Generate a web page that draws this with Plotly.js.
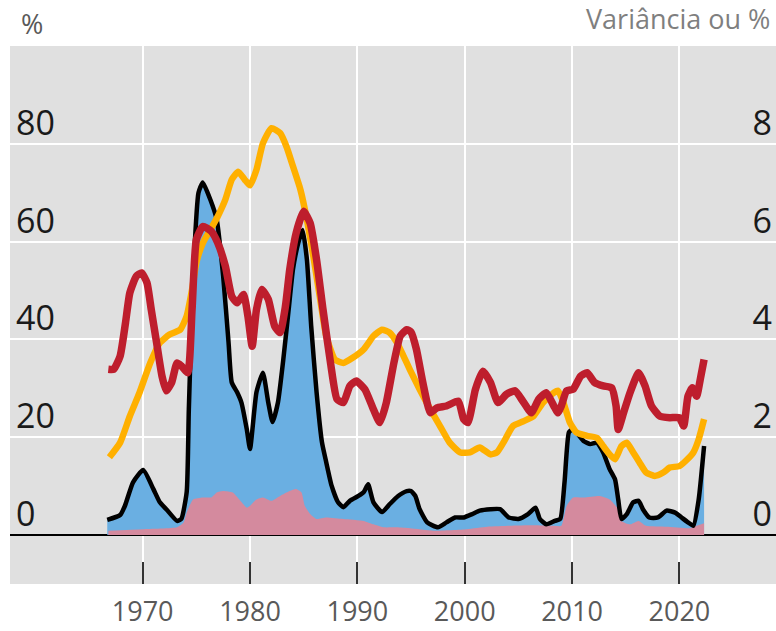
<!DOCTYPE html>
<html>
<head>
<meta charset="utf-8">
<script src="https://cdn.plot.ly/plotly-3.0.1.min.js"></script>
<style>html,body{margin:0;padding:0;background:#fff;}#chart{width:776px;height:631px;}</style>
</head>
<body>
<div id="chart"></div>
<script>
// Blue area (top outlined in black)
const blueYears = [1966.7,1967.9,1968.35,1969.1,1970.05,1971.0,1971.6,1972.2,1973.2,1973.6,1974.1,1974.3,1974.7,1975.2,1975.6,1976.3,1976.9,1977.5,1978.0,1978.3,1978.8,1979.2,1979.7,1980.0,1980.6,1981.2,1981.7,1982.1,1982.6,1983.1,1983.6,1984.0,1984.5,1984.9,1985.3,1985.7,1986.2,1986.7,1987.1,1987.6,1988.2,1988.7,1989.3,1990.1,1990.6,1991.0,1991.5,1992.3,1993.0,1993.8,1994.6,1995.0,1995.4,1995.8,1996.5,1997.5,1998.3,1999.1,1999.9,2000.7,2001.4,2002.4,2003.3,2004.1,2005.0,2005.9,2006.6,2007.0,2007.6,2008.4,2008.9,2009.3,2009.7,2010.0,2010.4,2011.1,2011.7,2012.3,2012.9,2013.5,2014.0,2014.3,2014.6,2015.1,2015.7,2016.2,2016.6,2017.2,2018.0,2018.8,2019.6,2020.2,2020.8,2021.3,2021.8,2022.3];
const blueValues = [3.1,4.1,6.0,10.8,13.3,9.4,6.7,5.3,2.9,3.3,8.8,25.7,52.9,70,72.1,68.6,64.5,52.9,39.4,31.2,29.2,27.1,21.6,17.6,29.2,33.2,27.1,23.1,27.1,35.9,46.1,54.3,59.8,62.4,56.3,42.7,29.2,19,14.9,10.1,6.7,5.7,7.0,8.0,8.8,10.4,6.7,4.7,6.3,8.0,9.0,9.0,8.0,5.3,2.6,1.6,2.6,3.6,3.6,4.3,5.0,5.3,5.3,3.6,3.3,4.3,5.6,3.3,2.2,2.9,3.3,10.8,21.0,21.6,21.0,19.2,18.6,18.9,16.9,13.5,11.4,7.3,3.3,4.3,6.7,7.0,5.3,3.6,3.6,5.0,4.6,3.6,2.6,1.9,7.3,18.2];

// Pink area
const pinkYears = [1966.8,1970.0,1973.2,1973.8,1974.1,1974.7,1975.6,1976.4,1976.9,1977.5,1978.4,1979.1,1979.7,1980.0,1980.6,1981.2,1982.0,1982.8,1983.7,1984.3,1984.8,1985.1,1985.6,1986.2,1987.1,1988.7,1990.6,1991.5,1992.4,1993.7,1994.9,1997.1,2000.2,2002.1,2004.2,2006.4,2008.3,2009.0,2009.5,2010.1,2011.1,2012.6,2013.5,2014.2,2014.6,2015.4,2016.2,2016.9,2018.8,2021.0,2021.6,2022.3];
const pinkValues = [0.9,1.2,1.6,2.5,4.6,7.3,7.7,7.7,8.7,9.0,8.7,7.0,5.6,6.0,7.3,7.7,7.0,8.0,9.0,9.4,8.7,6.0,4.3,3.3,3.6,3.3,2.9,2.2,1.6,1.6,1.4,0.9,1.2,1.7,1.9,2.0,1.9,1.9,6.0,7.7,7.7,8.0,7.3,5.6,2.9,2.2,2.9,1.9,1.7,1.4,1.9,2.4];

// Yellow line
const yellowYears = [1966.9,1967.9,1968.8,1969.7,1970.7,1971.6,1972.5,1973.5,1974.1,1974.6,1975.0,1975.6,1976.3,1977.0,1977.7,1978.3,1978.9,1979.5,1980.0,1980.6,1981.2,1982.0,1982.8,1983.4,1984.0,1984.7,1985.3,1985.9,1986.5,1987.1,1987.9,1988.7,1989.6,1990.6,1991.5,1992.3,1993.0,1993.7,1994.3,1994.9,1995.8,1996.8,1997.7,1998.6,1999.6,2000.5,2001.4,2002.4,2003.0,2003.6,2004.5,2005.5,2006.4,2007.3,2008.3,2008.7,2009.2,2009.8,2010.4,2011.4,2012.3,2012.9,2013.5,2014.0,2014.6,2015.1,2015.7,2016.3,2016.9,2017.7,2018.5,2019.1,2020.0,2020.6,2021.3,2021.8,2022.3];
const yellowValues = [15.9,18.9,24.3,29.1,35.2,39.3,41.0,42.0,44.8,50.2,55.7,59.7,62.4,65.2,68.6,72.7,74.3,72.7,71.5,74.7,80.1,83.2,82.2,79.4,75.4,70.6,64.5,57.0,48.8,40.7,35.9,35.2,36.3,38.0,40.7,42.0,41.4,39.3,36.6,33.8,29.8,25.7,22.3,18.9,16.9,16.9,17.9,16.5,16.9,18.9,22.3,23.3,24.3,27.1,29.1,29.5,27.1,23.0,21.0,20.3,19.9,18.2,16.5,15.5,18.2,18.9,16.9,14.8,12.8,12.1,12.8,13.8,14.1,15.2,16.9,19.6,23.7];

// Red line
const redYears = [1966.8,1967.3,1967.9,1968.4,1968.8,1969.4,1969.9,1970.4,1970.8,1971.3,1971.8,1972.2,1972.7,1973.2,1973.6,1974.2,1974.6,1975.0,1975.6,1976.4,1977.0,1977.7,1978.3,1978.8,1979.4,1979.8,1980.2,1980.6,1981.1,1981.7,1982.3,1982.8,1983.3,1983.7,1984.3,1985.0,1985.6,1986.2,1986.8,1987.5,1988.1,1988.7,1989.3,1989.9,1990.7,1991.5,1992.1,1992.7,1993.4,1994.0,1994.6,1995.0,1995.5,1996.1,1996.8,1997.4,1998.3,1999.4,1999.9,2000.3,2001.0,2001.7,2002.4,2003.1,2003.9,2004.7,2005.5,2006.2,2006.9,2007.6,2008.3,2008.7,2009.0,2009.5,2010.1,2010.8,2011.4,2012.1,2012.9,2013.7,2014.1,2014.3,2014.8,2015.4,2016.2,2016.8,2017.4,2018.2,2019.1,2020.0,2020.4,2020.8,2021.2,2021.6,2022.0,2022.3];
const redValues = [33.9,33.9,36.6,43.4,49.5,52.9,53.6,51.6,46.1,39.3,32.5,29.5,31.2,35.2,34.6,33.2,46.1,60.4,63.1,62.1,59.7,55.0,48.8,47.5,49.2,44.8,38.6,46.1,50.2,48.2,42.7,41.4,46.8,54.3,61.8,66.2,63.8,56.3,46.1,35.2,27.8,27.1,30.5,31.5,29.8,25.7,23.0,27.1,35.2,40.7,42.0,41.5,38.0,31.2,25.0,26.0,26.4,27.4,23.7,23.0,29.8,33.5,31.2,27.1,28.8,29.5,27.1,25.0,27.8,29.1,26.4,25.0,26.4,29.5,29.8,32.5,33.2,31.2,30.5,30.1,26.4,21.6,25.0,29.1,33.2,30.5,26.4,24.3,24.0,24.0,22.3,28.4,30.1,28.4,32.5,35.9];

// Axis ticks
const xTickYears = [1970,1980,1990,2000,2010,2020];
const leftTicks = [0,20,40,60,80];
const rightTicks = [0,2,4,6,8];
const leftTitle = '%';
const rightTitle = 'Variância ou %';

const FONT = 'Open Sans, Noto Sans, sans-serif';
const sm = 0.5;

const traces = [
  {x: blueYears, y: blueValues, type: 'scatter', mode: 'lines', fill: 'tozeroy',
   fillcolor: '#6aafe2', line: {width: 0, shape: 'spline', smoothing: sm}, hoverinfo: 'skip'},
  {x: pinkYears, y: pinkValues, type: 'scatter', mode: 'lines', fill: 'tozeroy',
   fillcolor: '#d48a9e', line: {width: 0, shape: 'spline', smoothing: sm}, hoverinfo: 'skip'},
  {x: blueYears, y: blueValues, type: 'scatter', mode: 'lines',
   line: {color: '#000000', width: 4.5, shape: 'spline', smoothing: sm}},
  {x: yellowYears, y: yellowValues, type: 'scatter', mode: 'lines',
   line: {color: '#ffb000', width: 6.5, shape: 'spline', smoothing: sm}},
  {x: redYears, y: redValues, type: 'scatter', mode: 'lines',
   line: {color: '#be1e2d', width: 7.5, shape: 'spline', smoothing: sm}},
  {x: [null], y: [null], yaxis: 'y2', type: 'scatter', mode: 'lines', showlegend: false}
];

const layout = {
  width: 776, height: 631,
  margin: {l: 10, r: 0, t: 46, b: 47},
  paper_bgcolor: '#ffffff',
  plot_bgcolor: '#e0e0e0',
  showlegend: false,
  font: {family: FONT},
  xaxis: {
    range: [1957.64, 2029.0],
    tickvals: xTickYears,
    ticktext: xTickYears.map(String),
    ticks: 'inside', ticklen: 22, tickwidth: 2, tickcolor: '#333333',
    showgrid: true, gridcolor: '#ffffff', gridwidth: 2,
    zeroline: false, showline: false,
    tickfont: {size: 27, color: '#595959', family: FONT},
    ticklabelstandoff: 9
  },
  yaxis: {
    range: [-10, 100],
    tickvals: leftTicks,
    ticktext: leftTicks.map(String),
    showgrid: true, gridcolor: '#ffffff', gridwidth: 2,
    zeroline: true, zerolinecolor: '#000000', zerolinewidth: 2.5,
    showline: false, ticks: '',
    ticklabelposition: 'inside',
    ticklabelshift: -21,
    ticklabelstandoff: 3,
    tickfont: {size: 34, color: '#1a1a1a', family: FONT}
  },
  yaxis2: {
    range: [-1, 10],
    overlaying: 'y', side: 'right',
    tickvals: rightTicks,
    ticktext: rightTicks.map(String),
    showgrid: false, zeroline: false, showline: false, ticks: '',
    ticklabelposition: 'inside',
    ticklabelshift: -21,
    ticklabelstandoff: 1,
    tickfont: {size: 34, color: '#1a1a1a', family: FONT}
  },
  annotations: [
    {text: leftTitle, xref: 'paper', yref: 'paper', x: 0, y: 1, xanchor: 'left', yanchor: 'bottom',
     xshift: 9, yshift: 2, showarrow: false, font: {size: 27, color: '#595959', family: FONT}},
    {text: rightTitle, xref: 'paper', yref: 'paper', x: 1, y: 1, xanchor: 'right', yanchor: 'bottom',
     xshift: -4, yshift: 7, showarrow: false, font: {size: 27, color: '#7f7f7f', family: FONT}}
  ]
};

Plotly.newPlot('chart', traces, layout, {staticPlot: true, displayModeBar: false});
</script>
</body>
</html>
